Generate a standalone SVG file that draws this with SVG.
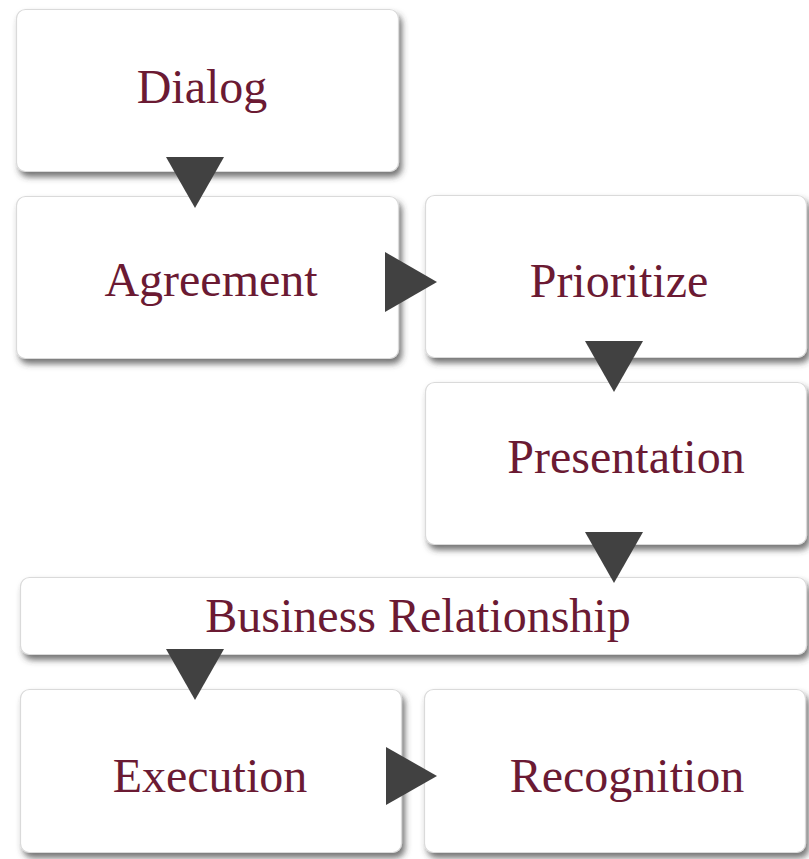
<svg xmlns="http://www.w3.org/2000/svg" width="809" height="859" viewBox="0 0 809 859">
  <defs>
    <!-- soft drop shadow below and to the right of each box -->
    <filter id="shade" x="-5%" y="-10%" width="115%" height="130%">
      <feGaussianBlur in="SourceAlpha" stdDeviation="3" result="blur"/>
      <feOffset in="blur" dx="3" dy="5" result="off"/>
      <feFlood flood-color="#3a3a3a" flood-opacity="0.7"/>
      <feComposite in2="off" operator="in" result="shadow"/>
      <feMerge>
        <feMergeNode in="shadow"/>
        <feMergeNode in="SourceGraphic"/>
      </feMerge>
    </filter>
  </defs>
  <style>
    .box { fill: #ffffff; stroke: #dadada; stroke-width: 1.2; filter: url(#shade); }
    .label { font-family: "Liberation Serif", "Times New Roman", serif; font-size: 48px; fill: #6b1a33; text-anchor: middle; }
    .arrow { fill: #414141; }
  </style>
  <rect width="809" height="859" fill="#ffffff"/>

  <g id="dialog">
    <rect class="box" x="16.5" y="9.5" width="382" height="162" rx="9"/>
    <text class="label" x="202" y="103">Dialog</text>
  </g>
  <g id="agreement">
    <rect class="box" x="16.5" y="196.5" width="382" height="162" rx="9"/>
    <text class="label" x="211" y="296">Agreement</text>
  </g>
  <g id="prioritize">
    <rect class="box" x="425.5" y="195.5" width="381" height="162" rx="9"/>
    <text class="label" x="619" y="297">Prioritize</text>
  </g>
  <g id="presentation">
    <rect class="box" x="425.5" y="382.5" width="381" height="162" rx="9"/>
    <text class="label" x="626" y="473">Presentation</text>
  </g>
  <g id="business-relationship">
    <rect class="box" x="20.5" y="577.5" width="786" height="77" rx="9"/>
    <text class="label" x="418" y="632">Business Relationship</text>
  </g>
  <g id="execution">
    <rect class="box" x="20.5" y="689.5" width="381" height="163" rx="9"/>
    <text class="label" x="210" y="792">Execution</text>
  </g>
  <g id="recognition">
    <rect class="box" x="424.5" y="689.5" width="381" height="163" rx="9"/>
    <text class="label" x="627" y="792">Recognition</text>
  </g>

  <g id="connectors">
    <polygon class="arrow" points="166,157 224,157 195,208"/>
    <polygon class="arrow" points="385,252 385,312 437,282"/>
    <polygon class="arrow" points="585,341 643,341 614,392"/>
    <polygon class="arrow" points="585,532 643,532 614,583"/>
    <polygon class="arrow" points="166,649 224,649 195,700"/>
    <polygon class="arrow" points="386,747 386,805 437,776"/>
  </g>
</svg>
